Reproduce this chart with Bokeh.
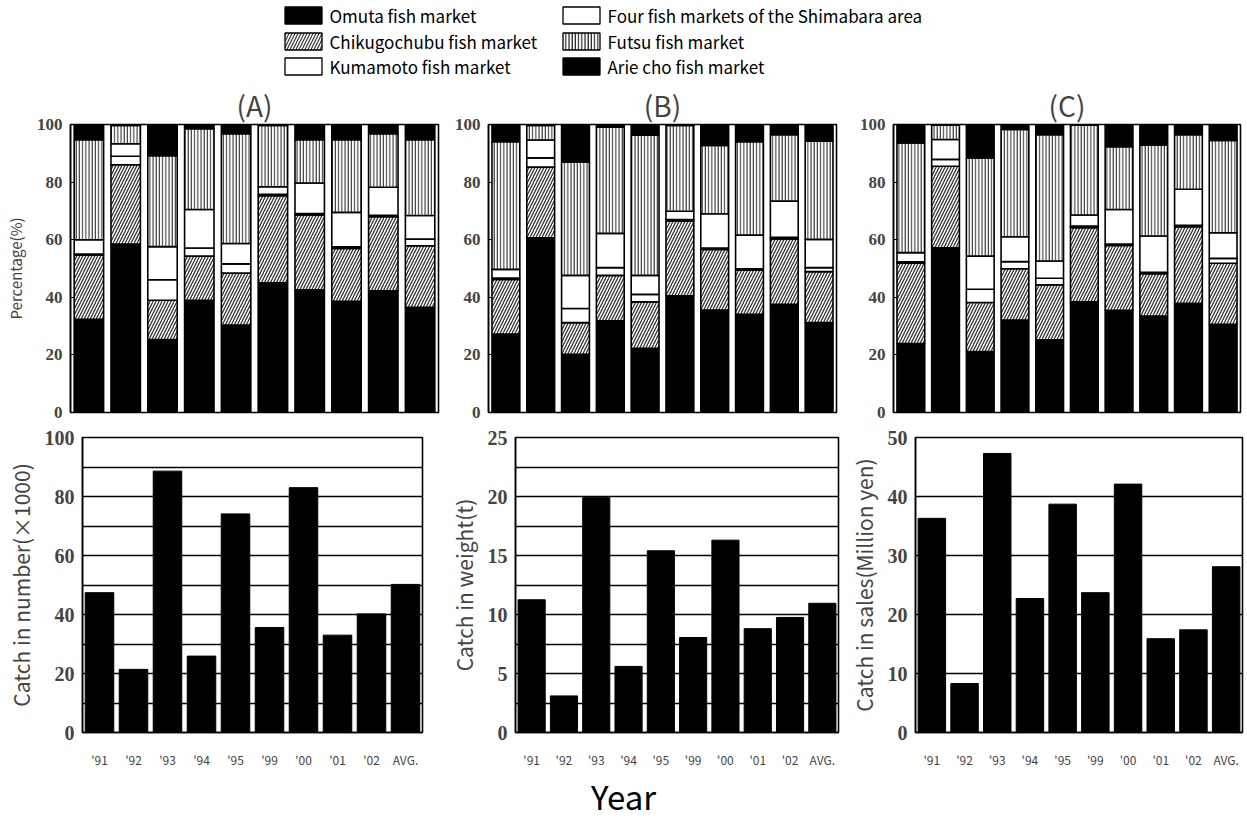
from bokeh.plotting import figure
from bokeh.layouts import column, row
from bokeh.models import (Range1d, FactorRange, SingleIntervalTicker,
                          ColumnDataSource)
from bokeh.embed import file_html
from bokeh.resources import INLINE
from bokeh.core.properties import value

# ---------------------------------------------------------------- data
years = ["'91", "'92", "'93", "'94", "'95", "'99", "'00", "'01", "'02", "AVG."]

markets = ["Omuta fish market", "Chikugochubu fish market", "Kumamoto fish market",
           "Four fish markets of the Shimabara area", "Futsu fish market",
           "Arie cho fish market"]

# Share of each market (%), panel (A): catch in number
a_arie    = [32.4, 58.5, 25.3, 39.0, 30.4, 45.0, 42.6, 38.6, 42.3, 36.5]
a_chikugo = [22.3, 27.5, 13.7, 15.3, 18.0, 30.3, 26.0, 18.4, 25.7, 21.4]
a_kuma    = [0.3, 3.0, 7.1, 2.8, 3.2, 0.5, 0.5, 0.5, 0.5, 2.3]
a_four    = [5.0, 4.3, 11.5, 13.4, 7.1, 2.6, 10.6, 12.0, 9.7, 8.2]
a_futsu   = [34.7, 6.4, 31.6, 28.0, 38.1, 21.3, 15.0, 25.2, 18.6, 26.3]
a_omuta   = [5.3, 0.3, 10.8, 1.5, 3.2, 0.3, 5.3, 5.3, 3.2, 5.3]

# panel (B): catch in weight
b_arie    = [27.2, 60.7, 20.2, 31.8, 22.3, 40.5, 35.6, 34.1, 37.6, 31.2]
b_chikugo = [19.0, 24.5, 11.0, 15.8, 16.1, 26.0, 21.0, 15.3, 22.7, 17.7]
b_kuma    = [0.5, 3.2, 4.9, 2.7, 2.6, 0.5, 0.5, 0.5, 0.5, 1.4]
b_four    = [3.0, 6.2, 11.5, 11.9, 6.6, 2.9, 11.9, 11.7, 12.6, 9.8]
b_futsu   = [44.3, 5.1, 39.3, 36.9, 48.7, 29.8, 23.7, 32.4, 23.1, 34.1]
b_omuta   = [6.0, 0.3, 13.1, 0.9, 3.7, 0.3, 7.3, 6.0, 3.5, 5.8]

# panel (C): catch in sales
c_arie    = [23.9, 57.2, 21.2, 32.1, 25.2, 38.4, 35.5, 33.5, 37.9, 30.6]
c_chikugo = [27.9, 28.3, 17.0, 17.8, 19.1, 25.8, 22.5, 14.7, 26.6, 21.2]
c_kuma    = [0.5, 2.4, 4.6, 2.5, 2.3, 0.5, 0.5, 0.5, 0.5, 1.7]
c_four    = [3.2, 6.9, 11.5, 8.6, 6.0, 3.9, 12.0, 12.6, 12.5, 8.9]
c_futsu   = [38.1, 5.0, 34.1, 37.3, 43.9, 31.2, 21.8, 31.5, 19.0, 32.1]
c_omuta   = [6.4, 0.2, 11.6, 1.7, 3.5, 0.2, 7.7, 7.2, 3.5, 5.5]

# totals
catch_number = [47.4, 21.4, 88.6, 25.9, 74.1, 35.6, 83.0, 33.0, 40.2, 50.2]
catch_weight = [11.25, 3.1, 19.9, 5.6, 15.4, 8.05, 16.3, 8.8, 9.75, 10.95]
catch_sales  = [36.3, 8.3, 47.3, 22.7, 38.7, 23.7, 42.1, 15.9, 17.4, 28.1]

# ---------------------------------------------------------------- styles
GOTHIC = "Noto Sans CJK JP"
SERIF = "Liberation Serif"

# stacking order, bottom to top
stack_keys = ["arie", "chikugo", "kuma", "four", "futsu", "omuta"]
stack_fill = ["black", "white", "white", "white", "white", "black"]
stack_hatch = [" ", "/", " ", " ", "|", " "]
stack_hatch_color = ["black", "#333333", "black", "black", "#222222", "black"]
stack_hatch_scale = [6, 6, 6, 6, 3.2, 6]
stack_hatch_weight = [1, 1.3, 1, 1, 1, 1]

# legend style per market (same order as `markets`)
leg_fill = ["black", "white", "white", "white", "white", "black"]
leg_hatch = [" ", "/", " ", " ", "|", " "]
leg_hatch_color = ["black", "#333333", "black", "black", "#222222", "black"]
leg_hatch_scale = [6, 6, 6, 6, 3.2, 6]


def style_y(p, size):
    ax = p.yaxis[0]
    ax.major_label_text_font = SERIF
    ax.major_label_text_font_style = "bold"
    ax.major_label_text_font_size = size
    ax.major_label_standoff = 4
    ax.axis_line_color = "black"
    ax.axis_line_width = 1.5
    ax.major_tick_in = 0
    ax.major_tick_out = 0
    ax.minor_tick_line_color = None
    ax.axis_label_text_font = GOTHIC
    ax.axis_label_text_font_style = "normal"


def share_panel(tag, series, width, left, right, ylabel=None):
    data = dict(year=years)
    data.update({k: v for k, v in zip(stack_keys, series)})
    src = ColumnDataSource(data)
    p = figure(x_range=FactorRange(*years), y_range=Range1d(0, 100),
               width=width, height=345, output_backend="svg", toolbar_location=None,
               min_border_left=left, min_border_right=right,
               min_border_top=44, min_border_bottom=13,
               title=tag)
    p.vbar_stack(stack_keys, x="year", width=0.8, source=src,
                 fill_color=stack_fill, line_color="black", line_width=1.6,
                 hatch_pattern=stack_hatch, hatch_color=stack_hatch_color,
                 hatch_scale=stack_hatch_scale, hatch_weight=stack_hatch_weight)
    p.title.align = "center"
    p.title.text_font = GOTHIC
    p.title.text_font_size = "28px"
    p.title.text_font_style = "normal"
    p.title.offset = 0
    p.title.standoff = 0
    p.xaxis.visible = False
    p.xgrid.visible = False
    p.ygrid.visible = False
    p.yaxis.ticker = SingleIntervalTicker(interval=20)
    style_y(p, "17px")
    p.yaxis.major_tick_in = 4
    p.yaxis.major_tick_line_width = 1
    if ylabel:
        p.yaxis.axis_label = ylabel
        p.yaxis.axis_label_text_font_size = "15px"
        p.yaxis.axis_label_standoff = 8
    p.outline_line_color = "black"
    p.outline_line_width = 1.6
    return p


def total_panel(vals, ymax, tick_step, grid_step, ylabel, width, left, right,
                overrides=None):
    src = ColumnDataSource(dict(year=years, val=vals))
    p = figure(x_range=FactorRange(*years), y_range=Range1d(0, ymax),
               width=width, height=345, output_backend="svg", toolbar_location=None,
               min_border_left=left, min_border_right=right,
               min_border_top=12, min_border_bottom=33)
    p.vbar(x="year", top="val", width=0.84, source=src,
           fill_color="black", line_color="black")
    p.xgrid.visible = False
    p.yaxis.ticker = SingleIntervalTicker(interval=tick_step)
    p.ygrid.ticker = SingleIntervalTicker(interval=grid_step)
    p.ygrid.grid_line_color = "black"
    p.ygrid.grid_line_width = 1.5
    style_y(p, "20px")
    p.yaxis.axis_label = ylabel
    p.yaxis.axis_label_text_font_size = "21px"
    p.yaxis.axis_label_standoff = 6
    xa = p.xaxis[0]
    xa.major_label_text_font = GOTHIC
    xa.major_label_text_font_size = "12px"
    xa.major_label_standoff = 12
    xa.major_tick_line_color = None
    xa.axis_line_color = "black"
    xa.axis_line_width = 1.5
    if overrides:
        xa.major_label_overrides = overrides
    p.outline_line_color = "black"
    p.outline_line_width = 1.6
    return p


# ---------------------------------------------------------------- legend strip
leg = figure(width=1247, height=80, x_range=Range1d(0, 1247), y_range=Range1d(80, 0),
             output_backend="svg", toolbar_location=None,
             min_border_left=0, min_border_right=0, min_border_top=0, min_border_bottom=0)
leg.axis.visible = False
leg.grid.visible = False
leg.outline_line_color = None
leg_cols = [303, 303, 303, 581, 581, 581]
leg_rows = [15, 41, 66, 15, 41, 66]
leg_src = ColumnDataSource(dict(x=leg_cols, y=leg_rows, fill=leg_fill, hatch=leg_hatch,
                                hcol=leg_hatch_color, hscale=leg_hatch_scale,
                                tx=[c + 26 for c in leg_cols], label=markets))
leg.rect(x="x", y="y", width=37, height=17, source=leg_src, fill_color="fill",
         line_color="black", line_width=1.3, hatch_pattern="hatch",
         hatch_color="hcol", hatch_scale="hscale", hatch_weight=1.2)
leg.text(x="tx", y="y", text="label", source=leg_src, text_font=value(GOTHIC),
         text_font_size="17px", text_baseline="middle", text_color="black")

# ---------------------------------------------------------------- panels
top_a = share_panel("(A)", [a_arie, a_chikugo, a_kuma, a_four, a_futsu, a_omuta],
                    450, 70, 12, "Percentage(%)")
top_b = share_panel("(B)", [b_arie, b_chikugo, b_kuma, b_four, b_futsu, b_omuta],
                    395, 38, 9)
top_c = share_panel("(C)", [c_arie, c_chikugo, c_kuma, c_four, c_futsu, c_omuta],
                    402, 48, 7)

bot_a = total_panel(catch_number, 100, 20, 10, "Catch in number(×1000)", 445, 82, 23)
bot_b = total_panel(catch_weight, 25, 5, 2.5, "Catch in weight(t)", 400, 55, 7,
                    overrides={"AVG.": "AVG"})
bot_c = total_panel(catch_sales, 50, 10, 10, "Catch in sales(Million yen)", 402, 65, 5)

# ---------------------------------------------------------------- x title strip
foot = figure(width=1247, height=51, x_range=Range1d(0, 1247), y_range=Range1d(51, 0),
              output_backend="svg", toolbar_location=None,
              min_border_left=0, min_border_right=0, min_border_top=0, min_border_bottom=0)
foot.axis.visible = False
foot.grid.visible = False
foot.outline_line_color = None
foot.text(x=[623], y=[25], text=["Year"], text_font=value(GOTHIC),
          text_font_size="33px", text_align="center", text_baseline="middle")

layout = column(leg, row(top_a, top_b, top_c), row(bot_a, bot_b, bot_c), foot)

with open("out.html", "w") as f:
    f.write(file_html(layout, INLINE))
